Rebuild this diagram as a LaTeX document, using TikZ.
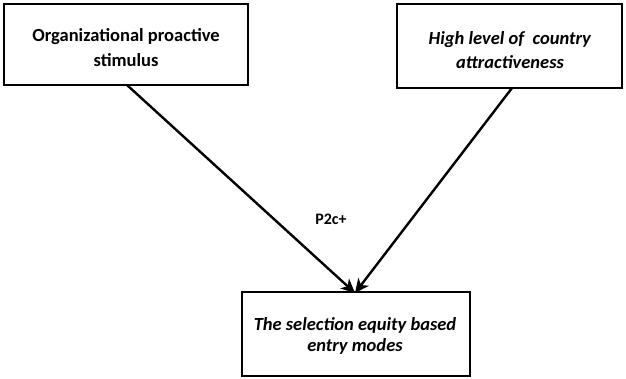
\documentclass[tikz,border=0pt]{standalone}
\usepackage{fontspec}
\setmainfont{Carlito}
\usetikzlibrary{arrows.meta}
\begin{document}
\begin{tikzpicture}[x=1pt,y=-1pt,
  boxline/.style={line width=1.8pt},
  lbl/.style={align=center,font=\fontsize{18.5}{25}\selectfont},
  link/.style={line width=2.4pt,-{Stealth[length=14pt,width=13pt,inset=4pt]}}]
\useasboundingbox (0,0) rectangle (626,378);
% boxes
\draw[boxline] (4,4) rectangle (248,85);
\draw[boxline] (397,4) rectangle (622,88);
\draw[boxline] (242,292) rectangle (470,376);
\node[lbl] (src) at (126,48) {\textbf{Organizational proactive}\\\textbf{stimulus}};
\node[lbl,font=\fontsize{18.5}{24}\selectfont] (attr) at (510,50) {\textbf{\textit{High level of\ \ country}}\\\textbf{\textit{attractiveness}}};
\node[lbl,font=\fontsize{18.5}{21}\selectfont] (mode) at (355,336) {\textbf{\textit{The selection equity based}}\\\textbf{\textit{entry modes}}};
\coordinate (s1) at (127,85);
\coordinate (s2) at (512,88);
\coordinate (t) at (355,293);
\draw[link] (s1) -- (t);
\draw[link] (s2) -- (t);
\node[font=\fontsize{16}{18}\selectfont\bfseries] (p) at (331,219) {P2c+};
\end{tikzpicture}
\end{document}
